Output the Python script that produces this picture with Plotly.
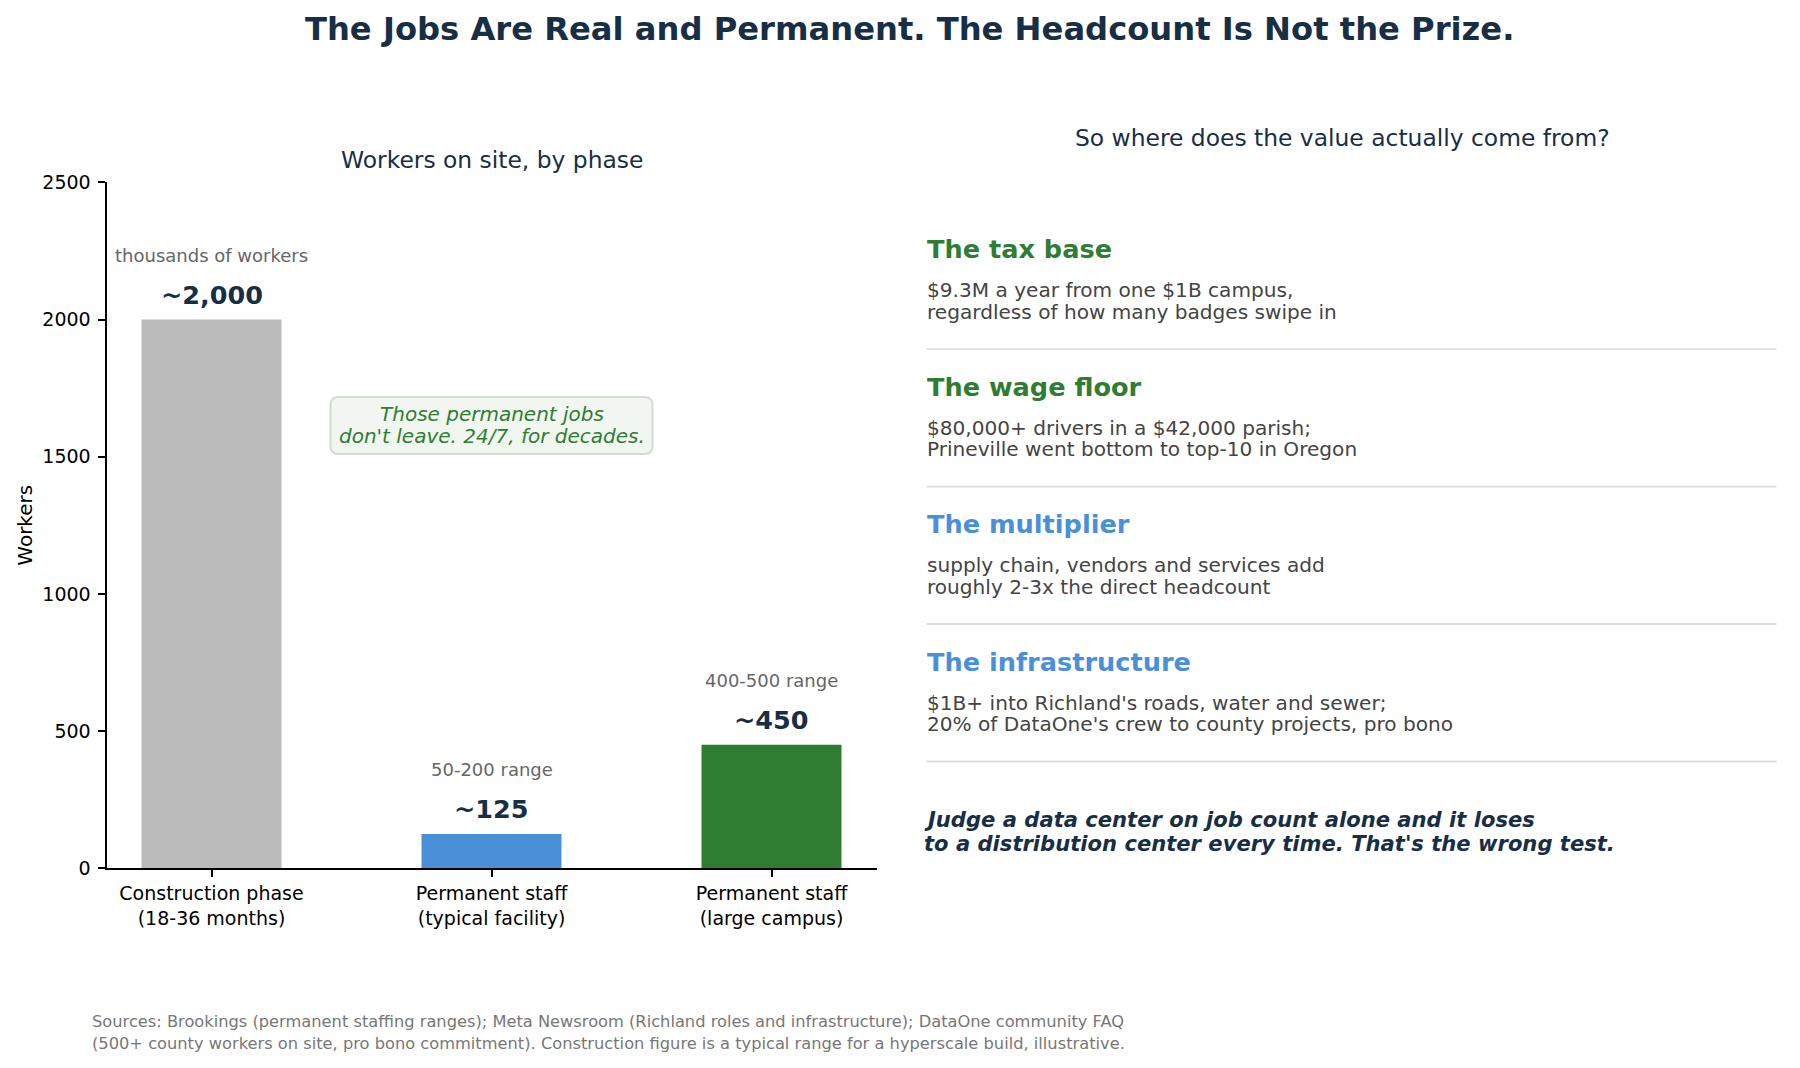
import plotly.graph_objects as go

W, H = 1800, 1068

# bar chart data
categories = ["Construction phase<br>(18-36 months)",
              "Permanent staff<br>(typical facility)",
              "Permanent staff<br>(large campus)"]
workers = [2000, 125, 450]
value_labels = ["~2,000", "~125", "~450"]
range_labels = ["thousands of workers", "50-200 range", "400-500 range"]
bar_colors = ["#bbbbbb", "#4a90d9", "#2e7d32"]
y_ticks = [0, 500, 1000, 1500, 2000, 2500]
callout = ["Those permanent jobs", "don't leave. 24/7, for decades."]

# right-hand panel text
headings = ["The tax base", "The wage floor", "The multiplier", "The infrastructure"]
heading_colors = ["#2e7d32", "#2e7d32", "#4a90d9", "#4a90d9"]
bodies = [
    ["$9.3M a year from one $1B campus,", "regardless of how many badges swipe in"],
    ["$80,000+ drivers in a $42,000 parish;", "Prineville went bottom to top-10 in Oregon"],
    ["supply chain, vendors and services add", "roughly 2-3x the direct headcount"],
    ["$1B+ into Richland's roads, water and sewer;", "20% of DataOne's crew to county projects, pro bono"],
]
closing = ["Judge a data center on job count alone and it loses",
           "to a distribution center every time. That's the wrong test."]
footer = ["Sources: Brookings (permanent staffing ranges); Meta Newsroom (Richland roles and infrastructure); DataOne community FAQ",
          "(500+ county workers on site, pro bono commitment). Construction figure is a typical range for a hyperscale build, illustrative."]

NAVY = "#172e45"
FONT = "DejaVu Sans"


# pixel position on the page -> paper coords (page has a small offset)
def px(x):
    return (x - 8.5) / W


def py(y):
    return 1 - ((y - 17.4) / 0.981) / H


def rounded_box(x0, y0, x1, y1, r):
    X0, X1 = px(x0), px(x1)
    Y0, Y1 = py(y0), py(y1)
    rx, ry = r / W, r / (H * 0.981)
    return (f"M {X0 + rx},{Y0} L {X1 - rx},{Y0} Q {X1},{Y0} {X1},{Y0 - ry} "
            f"L {X1},{Y1 + ry} Q {X1},{Y1} {X1 - rx},{Y1} "
            f"L {X0 + rx},{Y1} Q {X0},{Y1} {X0},{Y1 + ry} "
            f"L {X0},{Y0 - ry} Q {X0},{Y0} {X0 + rx},{Y0} Z")


fig = go.Figure()
fig.add_trace(go.Bar(
    x=categories, y=workers, width=0.5,
    marker=dict(color=bar_colors, line=dict(width=0)),
    hoverinfo="skip",
))

ann = []
# value labels above bars
for c, v, lab, rng in zip(categories, workers, value_labels, range_labels):
    ann.append(dict(x=c, y=v, xref="x", yref="y", text="<b>" + lab + "</b>",
                    showarrow=False, xanchor="center", yanchor="middle", yshift=25,
                    font=dict(size=25.5, color=NAVY, family=FONT)))
    ann.append(dict(x=c, y=v, xref="x", yref="y", text=rng,
                    showarrow=False, xanchor="center", yanchor="middle", yshift=64,
                    font=dict(size=18, color="#666666", family=FONT)))

shapes = []
# callout box
shapes.append(dict(type="path", xref="paper", yref="paper",
                   path=rounded_box(331, 396, 653, 453, 8),
                   fillcolor="#f2f6f1", line=dict(color="#d3dcd3", width=2), layer="above"))
for j, line in enumerate(callout):
    ann.append(dict(x=px(492), y=py(413 + j * 22), xref="paper", yref="paper",
                    text=line, showarrow=False, xanchor="center", yanchor="middle",
                    font=dict(size=20, color="#2e7d32", family=FONT, style="italic")))

# titles
ann.append(dict(x=px(910), y=py(27), xref="paper", yref="paper",
                text="<b>The Jobs Are Real and Permanent. The Headcount Is Not the Prize.</b>",
                showarrow=False, xanchor="center", yanchor="middle",
                font=dict(size=32.2, color=NAVY, family=FONT)))
ann.append(dict(x=px(492), y=py(159), xref="paper", yref="paper",
                text="Workers on site, by phase", showarrow=False,
                xanchor="center", yanchor="middle",
                font=dict(size=23.4, color=NAVY, family=FONT)))
ann.append(dict(x=px(1343), y=py(137), xref="paper", yref="paper",
                text="So where does the value actually come from?", showarrow=False,
                xanchor="center", yanchor="middle",
                font=dict(size=23.4, color=NAVY, family=FONT)))

step = 137.7
for k, (hd, col, body) in enumerate(zip(headings, heading_colors, bodies)):
    y0 = 248 + k * step
    ann.append(dict(x=px(925), y=py(y0), xref="paper", yref="paper",
                    text="<b>" + hd + "</b>", showarrow=False,
                    xanchor="left", yanchor="middle",
                    font=dict(size=25.6, color=col, family=FONT)))
    for j, line in enumerate(body):
        ann.append(dict(x=px(925), y=py(y0 + 41 + j * 21.7), xref="paper", yref="paper",
                        text=line, showarrow=False, xanchor="left", yanchor="middle",
                        font=dict(size=20.1, color="#444444", family=FONT)))
    sy = py(348 + k * step)
    shapes.append(dict(type="line", xref="paper", yref="paper",
                       x0=px(927), x1=px(1777), y0=sy, y1=sy,
                       line=dict(color="#dddddd", width=1.8)))

for j, line in enumerate(closing):
    ann.append(dict(x=px(922), y=py(819 + j * 24), xref="paper", yref="paper",
                    text="<b><i>" + line + "</i></b>", showarrow=False,
                    xanchor="left", yanchor="middle",
                    font=dict(size=21.1, color=NAVY, family=FONT)))

for j, line in enumerate(footer):
    ann.append(dict(x=px(90), y=py(1022 + j * 21.8), xref="paper", yref="paper",
                    text=line, showarrow=False, xanchor="left", yanchor="middle",
                    font=dict(size=16.25, color="#777777", family=FONT)))

fig.update_layout(
    width=W, height=H,
    margin=dict(l=0, r=0, t=0, b=0),
    paper_bgcolor="white", plot_bgcolor="white",
    showlegend=False,
    font=dict(family=FONT, color="black"),
    annotations=ann, shapes=shapes,
    xaxis=dict(domain=[px(107), px(877)], range=[-0.375, 2.375],
               showline=True, linecolor="black", linewidth=2,
               ticks="outside", ticklen=7, tickwidth=1.5, tickcolor="black",
               tickfont=dict(size=19, color="black", family=FONT),
               showgrid=False, zeroline=False, fixedrange=True),
    yaxis=dict(domain=[py(868), py(181)], range=[0, 2500],
               tickvals=y_ticks,
               showline=True, linecolor="black", linewidth=2,
               ticks="outside", ticklen=7, tickwidth=1.5, tickcolor="black",
               ticklabelstandoff=3,
               tickfont=dict(size=19, color="black", family=FONT),
               title=dict(text="Workers", font=dict(size=20, color="black", family=FONT),
                          standoff=4),
               showgrid=False, zeroline=False, fixedrange=True),
)

fig.write_html("out.html")
